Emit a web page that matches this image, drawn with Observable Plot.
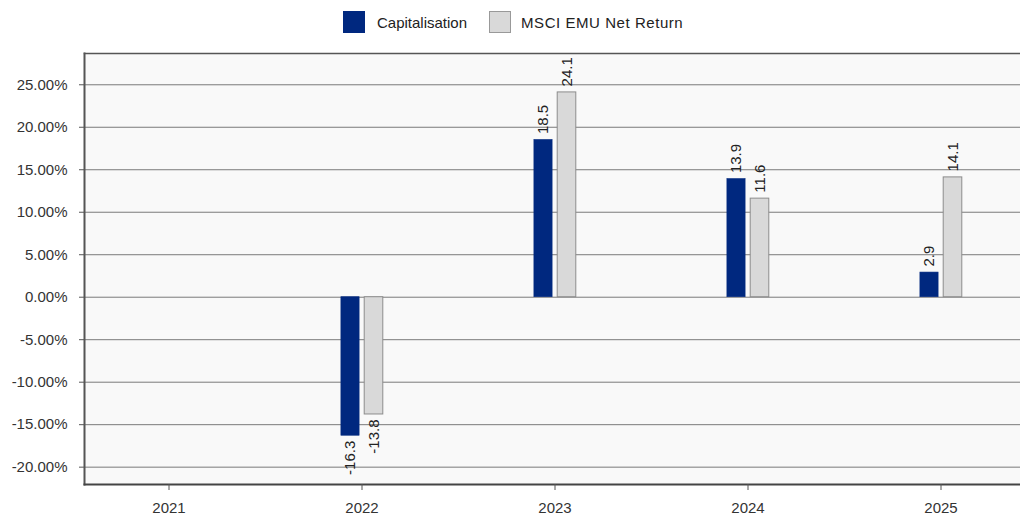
<!DOCTYPE html>
<html>
<head>
<meta charset="utf-8">
<script src="https://cdn.jsdelivr.net/npm/d3@7"></script>
<script src="https://cdn.jsdelivr.net/npm/@observablehq/plot@0.6"></script>
<style>
  html, body { margin: 0; padding: 0; background: #fff; overflow: hidden; }
  body { width: 1020px; height: 515px; position: relative; font-family: "Liberation Sans", Arial, sans-serif; }
  #legend { position: absolute; left: 343px; top: 11px; display: flex; align-items: center; font-size: 15px; color: #222; }
  .sw { width: 22px; height: 22px; box-sizing: border-box; display: inline-block; }
  .item { display: flex; align-items: center; }
  #chart { position: absolute; left: 0; top: 40px; }
</style>
</head>
<body>
<div id="legend"></div>
<div id="chart"></div>
<script>
const years = ["2021", "2022", "2023", "2024", "2025"];
const seriesNames = ["Capitalisation", "MSCI EMU Net Return"];
const capitalisation = [0, -16.3, 18.5, 13.9, 2.9];
const msciEmu = [0, -13.8, 24.1, 11.6, 14.1];
const yTicks = [-20, -15, -10, -5, 0, 5, 10, 15, 20, 25];
const colors = ["#00287f", "#d9d9d9"];

const capData = years.map((y, i) => ({year: y, value: capitalisation[i]}));
const msciData = years.map((y, i) => ({year: y, value: msciEmu[i]}));

// Legend
const legend = document.getElementById("legend");
seriesNames.forEach((name, i) => {
  const item = document.createElement("div");
  item.className = "item";
  if (i > 0) item.style.marginLeft = "22px";
  const sw = document.createElement("span");
  sw.className = "sw";
  sw.style.background = colors[i];
  sw.style.border = i === 0 ? "1px solid " + colors[0] : "1px solid #999";
  const label = document.createElement("span");
  label.textContent = name;
  label.style.marginLeft = i === 0 ? "12px" : "10px";
  if (i > 0) label.style.letterSpacing = "0.55px";
  item.appendChild(sw);
  item.appendChild(label);
  legend.appendChild(item);
});

const fmt = d => d.toFixed(1);
const labelOpts = (data, dx) => [
  Plot.text(data.filter(d => d.value > 0), {
    x: "year", y: "value", text: d => fmt(d.value), dx, dy: -6,
    rotate: -90, textAnchor: "start", lineAnchor: "middle",
    fontSize: 15, fill: "#222"
  }),
  Plot.text(data.filter(d => d.value < 0), {
    x: "year", y: "value", text: d => fmt(d.value), dx, dy: 5,
    rotate: -90, textAnchor: "end", lineAnchor: "middle",
    fontSize: 15, fill: "#222"
  })
];

const chart = Plot.plot({
  width: 1020,
  height: 475,
  marginTop: 13,
  marginBottom: 31,
  marginLeft: 84,
  marginRight: 0,
  style: {fontFamily: "'Liberation Sans', Arial, sans-serif", fontSize: "15px", color: "#333", background: "transparent"},
  x: {type: "band", domain: years, range: [69.8, 1038.9], padding: 0, label: null},
  y: {domain: [-22.04, 28.68], label: null},
  marks: [
    Plot.frame({fill: "#f9f9f9", stroke: "none"}),
    Plot.ruleY(yTicks, {stroke: "#7a7a7a", strokeWidth: 1}),
    Plot.barY(capData, {x: "year", y: "value", fill: colors[0], stroke: colors[0], strokeWidth: 0.6, insetLeft: 75.9, insetRight: 98.9}),
    Plot.barY(msciData, {x: "year", y: "value", fill: colors[1], stroke: "#8c8c8c", strokeWidth: 1, insetLeft: 99.2, insetRight: 75.2}),
    ...labelOpts(capData, -11.7),
    ...labelOpts(msciData, 12),
    Plot.frame({anchor: "top", stroke: "#555", strokeWidth: 1.5}),
    Plot.frame({anchor: "left", stroke: "#555", strokeWidth: 2}),
    Plot.frame({anchor: "bottom", stroke: "#444", strokeWidth: 2}),
    Plot.axisY(yTicks, {tickSize: 5, tickPadding: 12, tickFormat: d => d.toFixed(2) + "%", fontSize: 15, stroke: "#555", fill: "#333", label: null}),
    Plot.axisX({tickSize: 6, tickPadding: 12, fontSize: 15, stroke: "#555", fill: "#333", label: null})
  ]
});
document.getElementById("chart").appendChild(chart);
</script>
</body>
</html>
